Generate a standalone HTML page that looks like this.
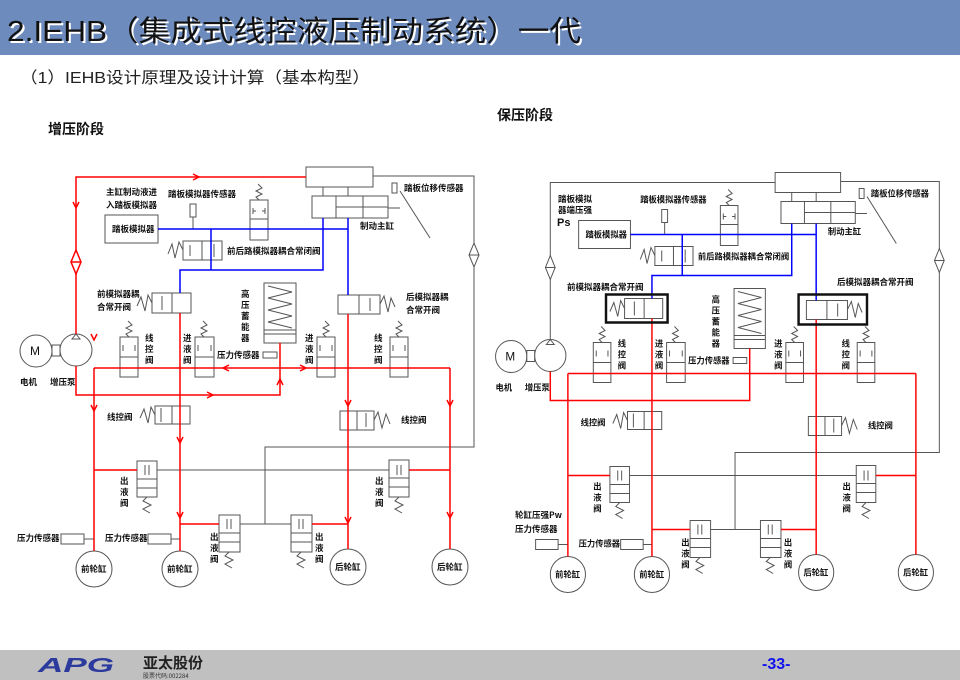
<!DOCTYPE html>
<html><head><meta charset="utf-8"><style>
html,body{margin:0;padding:0;background:#fff}
body{width:960px;height:680px;overflow:hidden;position:relative;font-family:"Liberation Sans","Noto Sans CJK SC",sans-serif}
</style></head><body>
<svg width="960" height="680" viewBox="0 0 960 680" xmlns="http://www.w3.org/2000/svg" style="position:absolute;left:0;top:0">
<rect x="0" y="0" width="960" height="55" fill="#6d8bbd"/>
<text x="9" y="43" font-size="29" font-family="'Liberation Sans','Noto Sans CJK SC',sans-serif" fill="#fff" textLength="574" lengthAdjust="spacingAndGlyphs">2.IEHB（集成式线控液压制动系统）一代</text>
<text x="7" y="41" font-size="29" font-family="'Liberation Sans','Noto Sans CJK SC',sans-serif" fill="#111" textLength="574" lengthAdjust="spacingAndGlyphs">2.IEHB（集成式线控液压制动系统）一代</text>
<text x="20" y="83" font-size="16" font-family="'Liberation Sans','Noto Sans CJK SC',sans-serif" fill="#222" textLength="350" lengthAdjust="spacingAndGlyphs">（1）IEHB设计原理及设计计算（基本构型）</text>
<text x="48" y="134" font-size="14" font-weight="bold" font-family="'Noto Sans CJK SC',sans-serif" fill="#111">增压阶段</text>
<text x="497" y="120" font-size="14" font-weight="bold" font-family="'Noto Sans CJK SC',sans-serif" fill="#111">保压阶段</text>

<defs>
<g id="common" font-family="'Noto Sans CJK SC',sans-serif" font-size="8.5" font-weight="bold" fill="none" stroke-width="1">
 <g stroke="#555">
  <rect x="306" y="167" width="67" height="20" fill="#fff"/>
  <rect x="312" y="196" width="76" height="22" fill="#fff"/>
  <path d="M336 196V218M363 196V218M336 207H388M323 187V196M348 187V196"/>
  <polyline points="373,176 474,176 474,447 265,447 265,524"/>
  <polygon points="474,243 479,255 474,267 469,255" fill="#fff"/>
  <path d="M469 255H479"/>
  <rect x="392" y="183" width="5" height="10" fill="#fff"/>
  <path d="M400 191L430 238M388 208H400"/>
  <rect x="105" y="215" width="53" height="28" fill="#fff"/>
  <rect x="190" y="204" width="6" height="13" fill="#fff"/>
  <path d="M193 217V229"/>
  <rect x="250" y="200" width="18" height="40" fill="#fff"/>
  <path d="M250 219H268M253 208V214M265 208V214M253 211H256M262 211H265"/>
  <polyline points="259,200 256,197 262,194 256,191 262,188 258,184"/>
  <rect x="183" y="241" width="39" height="19" fill="#fff"/>
  <path d="M202 241V260M190 245V256M214 244V257"/>
  <polyline points="183,250 179,242 175,258 172,244 168,254"/>
  <rect x="152" y="293" width="39" height="20" fill="#fff"/>
  <path d="M172 293V313M162 296V310"/>
  <polyline points="152,303 148,295 145,311 141,297 137,306"/>
  <rect x="338" y="295" width="42" height="19" fill="#fff"/>
  <path d="M359 295V314M370 298V311"/>
  <polyline points="380,304 384,296 388,312 391,298 395,307"/>
  <rect x="264" y="283" width="32" height="60" fill="#fff"/>
  <path d="M264 330H296M264 334H296"/>
  <polyline points="268,286 292,292 268,298 292,304 268,310 292,316 268,322 292,328"/>
  <rect x="120" y="337" width="18" height="40" fill="#fff"/>
  <path d="M120 357H138M123 345V351M135 345V351"/>
  <polyline points="129,337 126,334 132,331 126,328 132,325 128,321"/>
  <rect x="195" y="337" width="19" height="40" fill="#fff"/>
  <path d="M195 357H214M198 345V351M211 345V351"/>
  <polyline points="204,337 201,334 207,331 201,328 207,325 203,321"/>
  <rect x="317" y="337" width="18" height="40" fill="#fff"/>
  <path d="M317 357H335M320 345V351M332 345V351"/>
  <polyline points="326,337 323,334 329,331 323,328 329,325 325,321"/>
  <rect x="390" y="337" width="18" height="40" fill="#fff"/>
  <path d="M390 357H408M393 345V351M405 345V351"/>
  <polyline points="399,337 396,334 402,331 396,328 402,325 398,321"/>
  <rect x="263" y="352" width="14" height="6" fill="#fff"/>
  <circle cx="36" cy="351" r="16" fill="#fff"/>
  <circle cx="76" cy="350" r="16" fill="#fff"/>
  <rect x="52" y="345" width="8" height="11" fill="#fff"/>
  <polygon points="76,334 72,339 80,339" fill="#fff"/>
  <rect x="155" y="406" width="35" height="18" fill="#fff"/>
  <path d="M172 406V424M161 408V422"/>
  <polyline points="155,415 151,407 148,423 144,409 140,418"/>
  <rect x="340" y="411" width="34" height="19" fill="#fff"/>
  <path d="M357 411V430M366 413V427"/>
  <polyline points="374,420 378,412 382,428 386,414 390,424"/>
  <path d="M157 470H389"/>
  <path d="M240 524H291"/>
  <rect x="137" y="461" width="20" height="36" fill="#fff"/>
  <path d="M137 479H157M137 488H157M145 465V475M149 465V475"/>
  <polyline points="147,497 143,501 151,505 143,509 150,513"/>
  <rect x="389" y="460" width="20" height="37" fill="#fff"/>
  <path d="M389 478H409M389 487H409M397 465V475M401 465V475"/>
  <polyline points="399,497 395,501 403,505 395,509 402,513"/>
  <rect x="219" y="515" width="21" height="37" fill="#fff"/>
  <path d="M219 533H240M219 542H240M227 519V529M231 519V529"/>
  <polyline points="229,552 225,556 233,560 225,564 232,568"/>
  <rect x="291" y="515" width="21" height="37" fill="#fff"/>
  <path d="M291 533H312M291 542H312M299 519V529M303 519V529"/>
  <polyline points="301,552 297,556 305,560 297,564 304,568"/>
  <rect x="61" y="534" width="23" height="10" fill="#fff"/>
  <path d="M84 539H94"/>
  <rect x="148" y="534" width="23" height="10" fill="#fff"/>
  <path d="M171 539H180"/>
  <circle cx="94" cy="569" r="18" fill="#fff"/>
  <circle cx="180" cy="569" r="18" fill="#fff"/>
  <circle cx="348" cy="567" r="18" fill="#fff"/>
  <circle cx="450" cy="567" r="18" fill="#fff"/>
 </g>
 <g stroke="#f00" stroke-width="1.5">
  <polyline points="76,366 76,395 280,395 280,343"/>
  <path d="M94 368H450M94 368V551M180 313V551M348 314V549M450 368V549M94 470H137M409 470H450M180 524H219M312 524H348"/>
 </g>
 <g stroke="#00f" stroke-width="1.5">
  <path d="M158 229H348M348 218V295M323 218V270H180V293M211 229V270"/>
 </g>
 <g fill="#111" stroke="none">
  <text x="168" y="197">踏板模拟器传感器</text>
  <text x="404" y="191">踏板位移传感器</text>
  <text x="112" y="232">踏板模拟器</text>
  <text x="227" y="254">前后路模拟器耦合常闭阀</text>
  <text x="360" y="229">制动主缸</text>
  <text x="241" y="297">高</text><text x="241" y="308">压</text><text x="241" y="319">蓄</text><text x="241" y="330">能</text><text x="241" y="341">器</text>
  <text x="145" y="341">线</text><text x="145" y="352">控</text><text x="145" y="363">阀</text>
  <text x="183" y="341">进</text><text x="183" y="352">液</text><text x="183" y="363">阀</text>
  <text x="305" y="341">进</text><text x="305" y="352">液</text><text x="305" y="363">阀</text>
  <text x="374" y="341">线</text><text x="374" y="352">控</text><text x="374" y="363">阀</text>
  <text x="217" y="358">压力传感器</text>
  <text x="20" y="385">电机</text><text x="50" y="385">增压泵</text>
  <text x="107" y="420">线控阀</text><text x="401" y="423">线控阀</text>
  <text x="120" y="484">出</text><text x="120" y="495">液</text><text x="120" y="506">阀</text>
  <text x="375" y="484">出</text><text x="375" y="495">液</text><text x="375" y="506">阀</text>
  <text x="210" y="540">出</text><text x="210" y="551">液</text><text x="210" y="562">阀</text>
  <text x="315" y="540">出</text><text x="315" y="551">液</text><text x="315" y="562">阀</text>
  <text x="105" y="541">压力传感器</text>
  <text x="81" y="572">前轮缸</text><text x="167" y="572">前轮缸</text>
  <text x="335" y="570">后轮缸</text><text x="437" y="570">后轮缸</text>
  <text x="30" y="355" font-weight="normal" font-family="'Liberation Sans',sans-serif" font-size="12">M</text>
 </g>
</g>
</defs>

<use href="#common"/>
<g stroke="#f00" stroke-width="1.5" fill="none">
 <polyline points="306,177 76,177 76,334"/>
 <polygon points="76,250 81,262 76,274 71,262" fill="#fff"/>
 <path d="M71 262H81"/>
 <path d="M193 174L199 177L193 180M73 202L76 208L79 202M91 405L94 411L97 405M177 437L180 443L183 437M91 334L94 340L97 334M345 400L348 406L351 400M447 400L450 406L453 400M277 385L280 379L283 385M207 392L213 395L207 398M300 365L306 368L300 371M229 365L223 368L229 371M177 512L180 518L183 512M345 517L348 523L351 517M447 512L450 518L453 512"/>
</g>
<g font-family="'Noto Sans CJK SC',sans-serif" font-size="8.5" font-weight="bold" fill="#111">
 <text x="106" y="195">主缸制动液进</text><text x="106" y="208">入踏板模拟器</text>
 <text x="97" y="297">前模拟器耦</text><text x="97" y="310">合常开阀</text>
 <text x="406" y="300">后模拟器耦</text><text x="406" y="313">合常开阀</text>
 <text x="17" y="541">压力传感器</text>
</g>

<g transform="translate(476,5.5) scale(0.9775,1)">
 <use href="#common"/>
 <g stroke="#555" fill="none">
  <polyline points="306,177 76,177 76,334"/>
  <polygon points="76,250 81,262 76,274 71,262" fill="#fff"/>
  <path d="M71 262H81"/>
 </g>
 <rect x="133" y="289" width="63" height="28" fill="none" stroke="#111" stroke-width="2.5"/>
 <rect x="330" y="289" width="70" height="30" fill="none" stroke="#111" stroke-width="2.5"/>
</g>
<g font-family="'Noto Sans CJK SC',sans-serif" font-size="8.5" font-weight="bold" fill="#111">
 <text x="558" y="202">踏板模拟</text><text x="558" y="213">器端压强</text>
 <text x="557" y="226" font-size="11" font-family="'Liberation Sans',sans-serif">Ps</text>
 <text x="567" y="290">前模拟器耦合常开阀</text>
 <text x="837" y="285">后模拟器耦合常开阀</text>
 <text x="515" y="518">轮缸压强Pw</text>
 <text x="515" y="532">压力传感器</text>
</g>

<rect x="0" y="650" width="960" height="30" fill="#c0c0c0"/>
<text x="38" y="672" font-size="20" font-weight="bold" font-style="italic" font-family="'Liberation Sans',sans-serif" fill="#2b3a9c" textLength="76" lengthAdjust="spacingAndGlyphs">APG</text>
<text x="143" y="668" font-size="15" font-weight="bold" font-family="'Noto Sans CJK SC',sans-serif" fill="#222">亚太股份</text>
<text x="143" y="678" font-size="6" font-family="'Noto Sans CJK SC',sans-serif" fill="#333">股票代码:002284</text>
<text x="762" y="669" font-size="16" font-weight="bold" font-family="'Liberation Sans',sans-serif" fill="#1010ee">-33-</text>
</svg>
</body></html>
